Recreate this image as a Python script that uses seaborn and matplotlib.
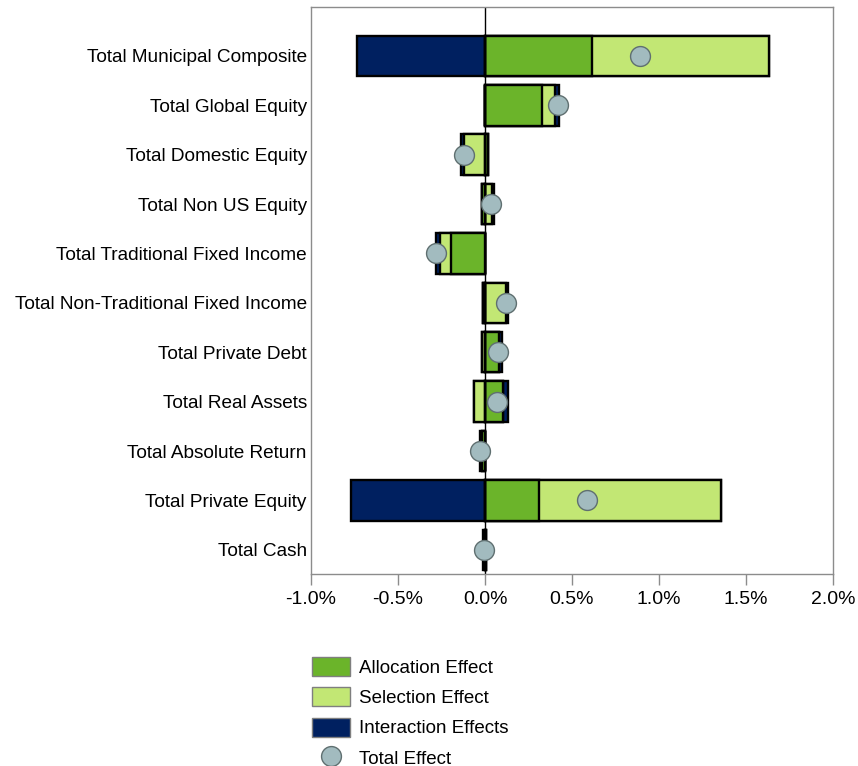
import matplotlib
matplotlib.use("Agg")
import matplotlib.pyplot as plt
import seaborn as sns
import numpy as np
import pandas as pd
from matplotlib.patches import Patch
from matplotlib.lines import Line2D
from matplotlib.ticker import FuncFormatter

categories = [
    "Total Municipal Composite",
    "Total Global Equity",
    "Total Domestic Equity",
    "Total Non US Equity",
    "Total Traditional Fixed Income",
    "Total Non-Traditional Fixed Income",
    "Total Private Debt",
    "Total Real Assets",
    "Total Absolute Return",
    "Total Private Equity",
    "Total Cash",
]
allocation = [0.615, 0.33, 0.02, -0.015, -0.195, -0.01, 0.08, 0.105, -0.015, 0.313, 0.005]
selection = [1.017, 0.07, -0.12, 0.04, -0.065, 0.12, -0.02, -0.063, 0.0, 1.043, 0.0]
interaction = [-0.735, 0.025, -0.02, 0.01, -0.02, 0.015, 0.02, 0.028, -0.015, -0.77, -0.01]
total = [0.89, 0.42, -0.12, 0.035, -0.28, 0.12, 0.075, 0.068, -0.026, 0.587, -0.008]
xticks = [-1.0, -0.5, 0.0, 0.5, 1.0, 1.5, 2.0]

series_names = ["Allocation Effect", "Selection Effect", "Interaction Effects"]
colors = ["#6BB42A", "#C2E774", "#002060"]
marker_face = "#A2BBBF"
marker_edge = "#5F6F70"

sns.set_theme(style="white")
plt.rcParams["font.family"] = ["Liberation Sans", "DejaVu Sans"]
plt.rcParams["text.color"] = "black"

fig = plt.figure(figsize=(8.58, 7.66), dpi=100)
ax = fig.add_axes([311 / 858, 1 - 574 / 766, (833 - 311) / 858, (574 - 7) / 766])

comps = np.array([allocation, selection, interaction])
pos = np.cumsum(np.clip(comps, 0, None), axis=0)
neg = np.cumsum(np.clip(comps, None, 0), axis=0)

ax.axvline(0, color="black", lw=1.0, zorder=0)

for cum in (pos, neg):
    for k in [2, 1, 0]:
        df = pd.DataFrame({"cat": categories, "val": cum[k]})
        sns.barplot(data=df, x="val", y="cat", order=categories, orient="h",
                    color=colors[k], saturation=1, edgecolor="black",
                    linewidth=1.7, width=0.82, errorbar=None, ax=ax, zorder=2)

tdf = pd.DataFrame({"cat": categories, "total": total})
sns.scatterplot(data=tdf, x="total", y="cat", s=205, color=marker_face,
                edgecolor=marker_edge, linewidth=1.0, ax=ax, zorder=5)

ax.set_xlim(-1.0, 2.0)
ax.set_ylim(10.49, -0.99)
ax.set_xticks(xticks)
ax.xaxis.set_major_formatter(FuncFormatter(lambda v, p: f"{v:.1f}%"))
ax.set_xlabel("")
ax.set_ylabel("")
ax.tick_params(axis="x", direction="out", length=8, width=1, color="#8C8C8C",
               labelsize=14, labelcolor="black", bottom=True, pad=4)
ax.tick_params(axis="y", length=0, labelsize=13.7, labelcolor="black", pad=3)
for s in ax.spines.values():
    s.set_color("#8C8C8C")
    s.set_linewidth(1.0)

handles = [Patch(facecolor=c, edgecolor="#7F7F7F", linewidth=1.0) for c in colors]
handles.append(Line2D([], [], marker="o", linestyle="none", markersize=14.3,
                      markerfacecolor=marker_face, markeredgecolor=marker_edge,
                      markeredgewidth=1.0))
labels = series_names + ["Total Effect"]
fig.legend(handles, labels, loc="upper left", bbox_to_anchor=(312 / 858, 1 - 657 / 766),
           frameon=False, fontsize=13.5, handlelength=2.03, handleheight=1.2,
           handletextpad=0.5, labelspacing=0.55, borderpad=0, borderaxespad=0,
           labelcolor="black")

fig.savefig("out.png", dpi=100)
